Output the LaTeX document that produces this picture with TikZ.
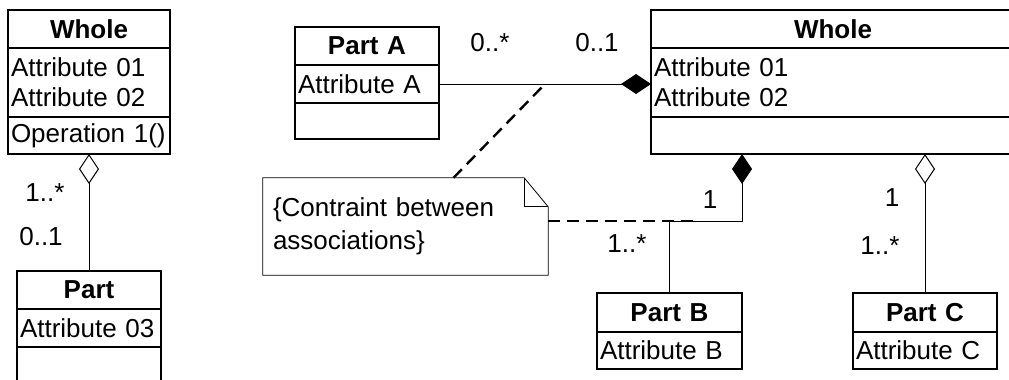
\documentclass[tikz,border=0pt]{standalone}
\usepackage{fontspec}
\setmainfont{Liberation Sans}
\usetikzlibrary{positioning,arrows.meta,calc}

\newcommand\umlfont{\fontsize{26}{30}\selectfont}

\tikzset{
  every node/.style={font=\umlfont},
  box/.style={draw, line width=1.2pt, outer sep=0pt, inner xsep=3pt, inner ysep=0pt,
    text width=#1, align=left},
  head/.style={box=#1, align=center, font=\umlfont\bfseries, minimum height=38pt},
  link/.style={line width=1pt},
  compose/.style={link, -{Diamond[length=30pt,width=20pt]}},
  aggregate/.style={link, -{Diamond[open,length=30pt,width=20pt]}},
  constraint/.style={line width=2.4pt, dash pattern=on 12pt off 7pt},
  notebox/.style={inner xsep=10pt, inner ysep=0pt, text width=265pt, minimum height=97pt,
    align=left, font=\fontsize{26}{33}\selectfont},
}

\begin{document}
\begin{tikzpicture}[x=1pt, y=-1pt]
  \useasboundingbox (0,0) rectangle (1009,380);
  \clip (0,0) rectangle (1009,380);

  % whole and part, left
  \node[head=156pt] (wl-head) at (89,29) {Whole};
  \node[box=156pt, minimum height=69pt, below=0pt of wl-head] (wl-attr) {Attribute 01\\Attribute 02};
  \node[box=156pt, minimum height=37pt, below=0pt of wl-attr] (wl-ops) {Operation 1()};

  \node[head=138pt] (pt-head) at (89,290) {Part};
  \node[box=138pt, minimum height=38pt, below=0pt of pt-head] (pt-attr) {Attribute 03};
  \node[box=138pt, minimum height=38pt, below=0pt of pt-attr] (pt-ops) {};

  % whole with parts A, B, C
  \node[head=138pt] (pa-head) at (367,46) {Part A};
  \node[box=138pt, minimum height=38pt, below=0pt of pa-head] (pa-attr) {Attribute A};
  \node[box=138pt, minimum height=36pt, below=0pt of pa-attr] (pa-ops) {};

  \node[head=358pt] (wr-head) at (833,29) {Whole};
  \node[box=358pt, minimum height=69pt, below=0pt of wr-head] (wr-attr) {Attribute 01\\Attribute 02};
  \node[box=358pt, minimum height=37pt, below=0pt of wr-attr] (wr-ops) {};

  \node[head=139pt, minimum height=39pt] (pb-head) at (669.5,312.5) {Part B};
  \node[box=139pt, minimum height=37pt, below=0pt of pb-head] (pb-attr) {Attribute B};

  \node[head=138pt, minimum height=39pt] (pc-head) at (925,312.5) {Part C};
  \node[box=138pt, minimum height=37pt, below=0pt of pc-head] (pc-attr) {Attribute C};

  % note
  \node[notebox] (note) at (405.5,226.5) {\{Contraint between\\associations\}};
  \draw[line width=0.8pt] (note.south west) -- (note.north west) -- ([xshift=-24pt]note.north east)
    -- ([yshift=-29pt]note.north east) -- (note.south east) -- cycle;
  \draw[line width=0.8pt] ([xshift=-24pt]note.north east) |- ([yshift=-29pt]note.north east);

  % associations
  \draw[aggregate] (pt-head.north) -- (wl-ops.south);
  \draw[compose] (pa-attr.east) -- (pa-attr.east -| wr-attr.west);
  \coordinate (bend) at (742,221);
  \draw[compose] (pb-head.north) |- (bend) -- (bend |- wr-ops.south);
  \draw[aggregate] (pc-head.north) -- (pc-head.north |- wr-ops.south);

  % constraint
  \coordinate (ca) at ($(pa-attr.east)!.5!(pa-attr.east -| wr-attr.west)$);
  \coordinate (na) at ([xshift=48pt]note.north);
  \coordinate (cb) at (697,221);
  \draw[constraint] (na) -- (ca);
  \draw[constraint] (note.east |- bend) -- (cb);

  % multiplicities
  \node (m-wl) at (45,193) {1..*};
  \node (m-pt) at (41,237) {0..1};
  \node (m-pa) at (490,43) {0..*};
  \node (m-wa) at (597,43) {0..1};
  \node (m-wb) at (710,200) {1};
  \node (m-pb) at (627,244) {1..*};
  \node (m-wc) at (892,198) {1};
  \node (m-pc) at (880,246) {1..*};
\end{tikzpicture}
\end{document}
